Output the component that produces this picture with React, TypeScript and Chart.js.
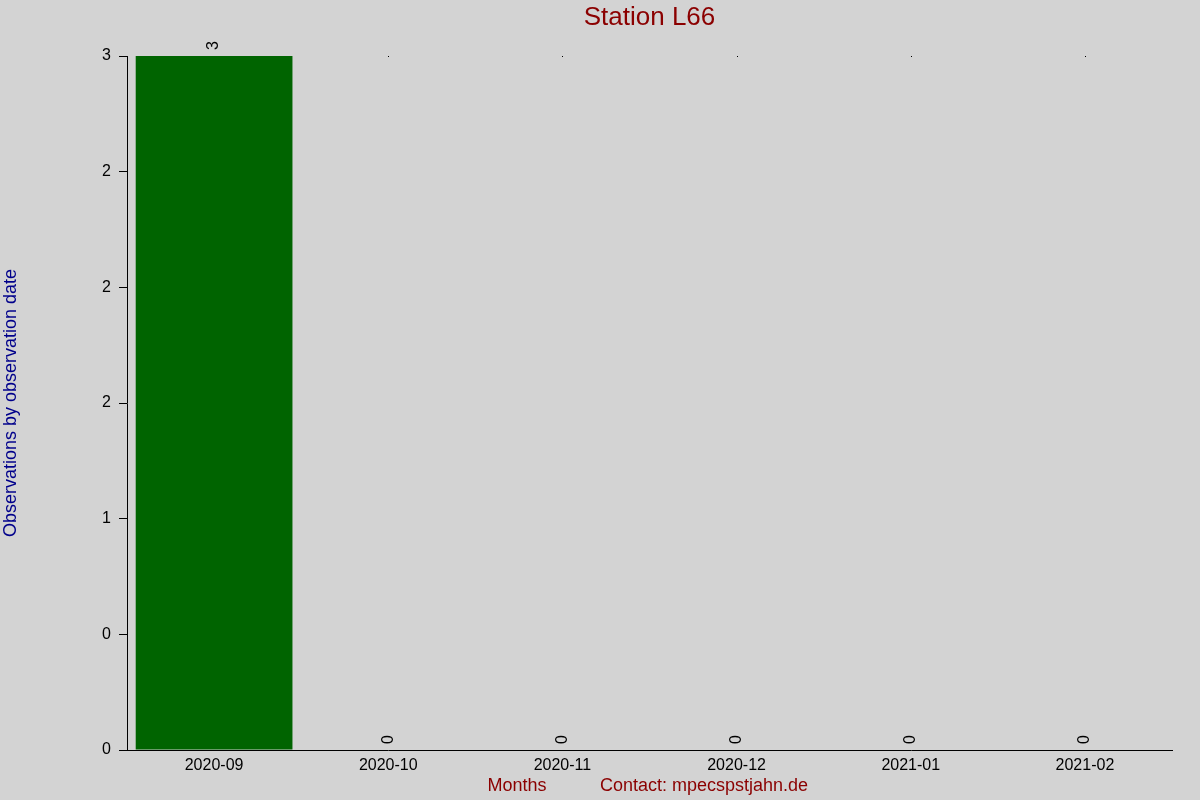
import { useEffect, useRef } from "react"
import Chart from "chart.js/auto"

// Monate und Beobachtungen
const months = ["2020-09", "2020-10", "2020-11", "2020-12", "2021-01", "2021-02"]
const observations = [3, 0, 0, 0, 0, 0]
// Achsenbeschriftung wie im Original (gerundete Werte)
const yTickLabels = ["0", "0", "1", "2", "2", "2", "3"]

const chartTitle = "Station L66"
const yTitle = "Observations by observation date"
const xTitle = "Months"
const contactText = "Contact: mpecspstjahn.de"

const FONT = "'Liberation Sans', Arial, sans-serif"

export default function App() {
  const canvasRef = useRef<HTMLCanvasElement>(null)
  const chartRef = useRef<Chart | null>(null)

  useEffect(() => {
    if (!canvasRef.current) return
    const ctx = canvasRef.current.getContext("2d")
    if (!ctx) return
    if (chartRef.current) chartRef.current.destroy()

    const textPlugin = {
      id: "texts",
      beforeDraw(chart: any) {
        const c = chart.ctx
        c.save()
        c.fillStyle = "#d3d3d3"
        c.fillRect(0, 0, chart.width, chart.height)
        c.restore()
      },
      beforeDatasetsDraw(chart: any) {
        // kleine Punkte am oberen Rand (unter den Balken)
        const c = chart.ctx
        const ys = chart.scales.y
        const meta = chart.getDatasetMeta(0)
        c.save()
        c.fillStyle = "#000"
        meta.data.forEach((bar: any) => {
          c.fillRect(Math.round(bar.x), Math.round(ys.getPixelForValue(ys.max)), 1, 1)
        })
        c.restore()
      },
      afterDraw(chart: any) {
        const c = chart.ctx
        const area = chart.chartArea
        c.save()
        // Titel
        c.fillStyle = "#8b0000"
        c.font = `26px ${FONT}`
        c.textAlign = "center"
        c.textBaseline = "middle"
        c.fillText(chartTitle, (area.left + area.right) / 2, 18)
        // X-Titel
        c.font = `18px ${FONT}`
        c.fillText(xTitle, 517, 786)
        c.fillText(contactText, 704, 786)
        // Y-Titel
        c.fillStyle = "#00008b"
        c.translate(11, (area.top + area.bottom) / 2)
        c.rotate(-Math.PI / 2)
        c.fillText(yTitle, 0, 0)
        c.restore()

        // Werte über den Balken
        c.save()
        const meta = chart.getDatasetMeta(0)
        meta.data.forEach((bar: any, i: number) => {
          c.save()
          c.fillStyle = "#000"
          c.translate(bar.x, bar.y - 6)
          c.rotate(-Math.PI / 2)
          c.font = `16px ${FONT}`
          c.textAlign = "left"
          c.textBaseline = "middle"
          c.fillText(String(observations[i]), 0, 0)
          c.restore()
        })
        c.restore()
      },
    }

    chartRef.current = new Chart(ctx, {
      type: "bar",
      data: {
        labels: months,
        datasets: [
          {
            label: "Observations",
            data: observations,
            backgroundColor: "#006400",
            borderWidth: 0,
            barPercentage: 0.9,
            categoryPercentage: 1,
          },
        ],
      },
      options: {
        animation: false,
        responsive: false,
        layout: { padding: { left: 0, top: 56, right: 28, bottom: 0 } },
        plugins: {
          legend: { display: false },
          tooltip: { enabled: false },
          title: { display: false },
        },
        scales: {
          x: {
            afterFit: (scale: any) => {
              scale.height = 50
            },
            border: { display: true, color: "#000", width: 1 },
            grid: { display: false, drawTicks: false },
            ticks: {
              color: "#000",
              font: { family: FONT, size: 16 },
              padding: 6,
              maxRotation: 0,
            },
          },
          y: {
            min: 0,
            max: 3,
            afterFit: (scale: any) => {
              scale.width = 127
            },
            border: { display: true, color: "#000", width: 1 },
            grid: {
              display: true,
              drawOnChartArea: false,
              drawTicks: true,
              tickLength: 8,
              color: "#000",
            },
            ticks: {
              stepSize: 0.5,
              color: "#000",
              font: { family: FONT, size: 16 },
              padding: 8,
              callback: (_v: any, idx: number) => yTickLabels[idx],
            },
          },
        },
      },
      plugins: [textPlugin],
    })

    return () => {
      if (chartRef.current) {
        chartRef.current.destroy()
        chartRef.current = null
      }
    }
  }, [])

  return (
    <div style={{ position: "fixed", left: 0, top: 0, width: 1200, height: 800, background: "#d3d3d3" }}>
      <canvas ref={canvasRef} width={1200} height={800} style={{ width: 1200, height: 800 }} />
    </div>
  )
}
